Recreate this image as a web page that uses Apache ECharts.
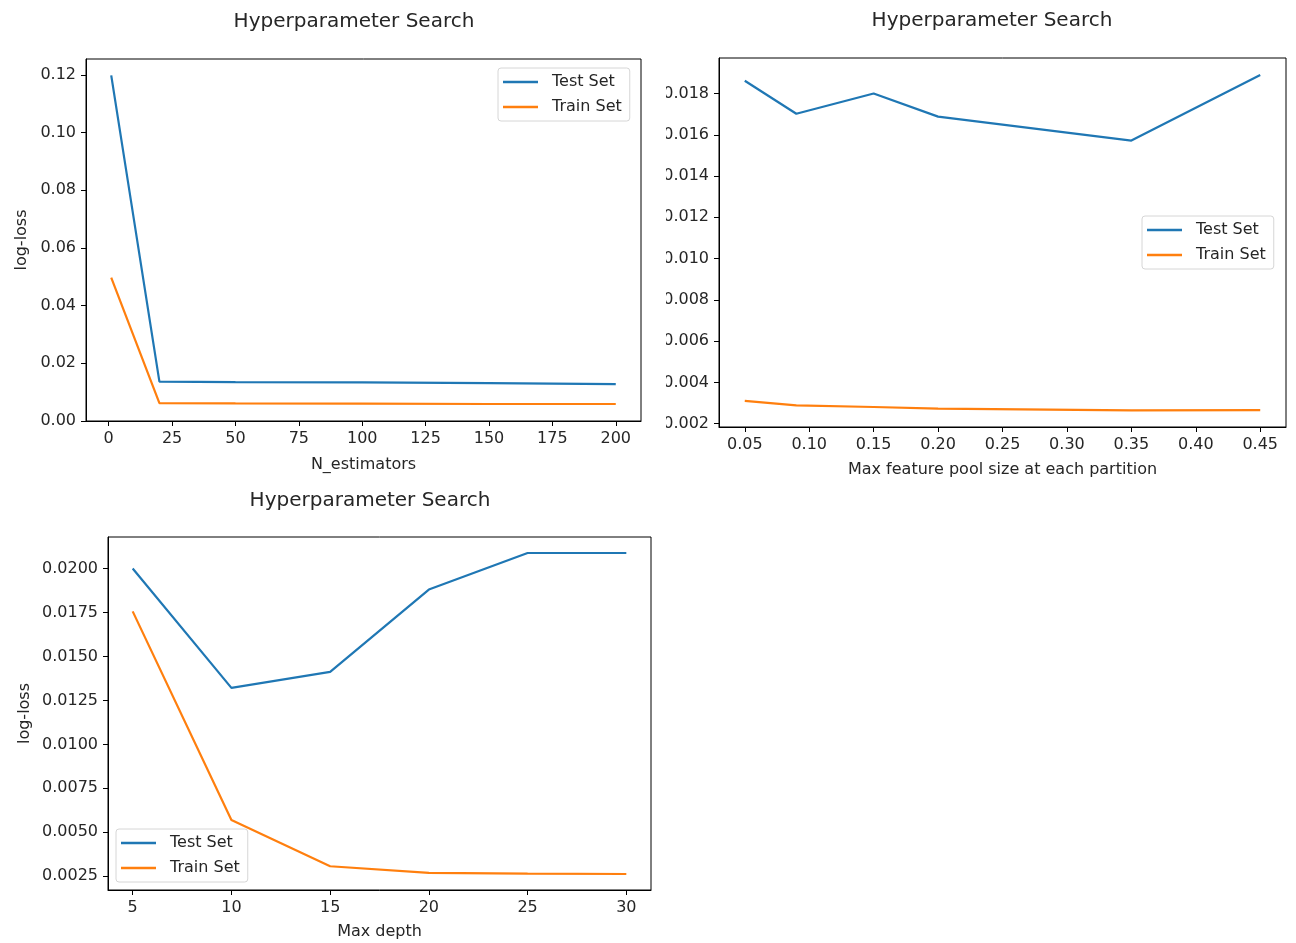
<!DOCTYPE html>
<html>
<head>
<meta charset="utf-8">
<title>Hyperparameter Search</title>
<script src="https://cdn.jsdelivr.net/npm/echarts@6/dist/echarts.min.js"></script>
<style>
  html, body { margin: 0; padding: 0; background: #fff; }
  #chart { width: 1296px; height: 943px; }
</style>
</head>
<body>
<div id="chart"></div>
<script>
// n_estimators search
var nEstimators = [1, 20, 50, 100, 150, 200];
var nEstTest = [0.1198, 0.01365, 0.0135, 0.0134, 0.0131, 0.01275];
var nEstTrain = [0.0497, 0.0062, 0.0061, 0.0060, 0.0059, 0.0059];

// max feature pool size search
var maxFeatures = [0.05, 0.09, 0.15, 0.2, 0.35, 0.45];
var maxFeatTest = [0.01862, 0.01702, 0.01800, 0.01688, 0.01572, 0.01890];
var maxFeatTrain = [0.00311, 0.00289, 0.00281, 0.00273, 0.00265, 0.00266];

// max depth search
var maxDepth = [5, 10, 15, 20, 25, 30];
var depthTest = [0.0200, 0.01321, 0.01412, 0.01880, 0.02088, 0.02088];
var depthTrain = [0.01756, 0.0057, 0.00307, 0.00269, 0.00265, 0.00263];

// tick labels
var nEstTicks = [0, 25, 50, 75, 100, 125, 150, 175, 200];
var nEstLossTicks = [0, 0.02, 0.04, 0.06, 0.08, 0.10, 0.12];
var featTicks = [0.05, 0.10, 0.15, 0.20, 0.25, 0.30, 0.35, 0.40, 0.45];
var featLossTicks = [0.002, 0.004, 0.006, 0.008, 0.010, 0.012, 0.014, 0.016, 0.018];
var depthTicks = [5, 10, 15, 20, 25, 30];
var depthLossTicks = [0.0025, 0.0050, 0.0075, 0.0100, 0.0125, 0.0150, 0.0175, 0.0200];

var seriesNames = ['Test Set', 'Train Set'];
var colors = ['#1f77b4', '#ff7f0e'];
var font = 'DejaVu Sans';
var textColor = '#262626';

function zip(xs, ys) {
  return xs.map(function (x, i) { return [x, ys[i]] })
}

function axis(gridIndex, min, max, ticks, digits, name, gap) {
  return {
    type: 'value',
    gridIndex: gridIndex,
    min: min,
    max: max,
    name: name,
    nameLocation: 'middle',
    nameGap: gap,
    nameTextStyle: { fontFamily: font, fontSize: 16, color: textColor },
    axisLine: { show: true, onZero: false, lineStyle: { color: '#000', width: 1 } },
    axisTick: { show: true, inside: false, length: 5, customValues: ticks, lineStyle: { color: '#000', width: 1 } },
    axisLabel: {
      customValues: ticks,
      margin: 10,
      fontFamily: font,
      fontSize: 16,
      color: textColor,
      formatter: function (v) { return Number(v).toFixed(digits) }
    },
    splitLine: { show: false }
  }
}

function line(name, idx, data, color) {
  return {
    name: name,
    type: 'line',
    xAxisIndex: idx,
    yAxisIndex: idx,
    data: data,
    symbol: 'none',
    color: color,
    lineStyle: { color: color, width: 2.2 },
    animation: false
  }
}

function legend(left, top) {
  return {
    data: seriesNames,
    orient: 'vertical',
    left: left,
    top: top,
    icon: 'rect',
    itemWidth: 35,
    itemHeight: 2.5,
    itemGap: 7,
    padding: [5, 8, 5, 5],
    borderColor: '#d6d6d6',
    borderWidth: 1,
    borderRadius: 3,
    backgroundColor: '#fff',
    selectedMode: false,
    textStyle: { fontFamily: font, fontSize: 16, color: textColor, lineHeight: 18, padding: [0, 0, 0, 9] }
  }
}

function title(text, x, y) {
  return {
    text: text,
    left: x,
    top: y,
    textAlign: 'center',
    padding: 0,
    textStyle: { fontFamily: font, fontSize: 20, fontWeight: 'normal', color: textColor }
  }
}

var gridStyle = { show: true, borderColor: '#000', borderWidth: 1, backgroundColor: 'transparent' };

var option = {
  backgroundColor: '#fff',
  animation: false,
  title: [
    title('Hyperparameter Search', 354, 12),
    title('Hyperparameter Search', 992, 11),
    title('Hyperparameter Search', 370, 491)
  ],
  legend: [
    legend(498, 68),
    legend(1142, 216),
    legend(116, 829)
  ],
  grid: [
    Object.assign({ left: 86, top: 59, width: 555, height: 362 }, gridStyle),
    Object.assign({ left: 719, top: 58, width: 567, height: 369 }, gridStyle),
    Object.assign({ left: 108, top: 537, width: 543, height: 353 }, gridStyle)
  ],
  xAxis: [
    axis(0, -8.95, 209.95, nEstTicks, 0, 'N_estimators', 36),
    axis(1, 0.03, 0.47, featTicks, 2, 'Max feature pool size at each partition', 35),
    axis(2, 3.75, 31.25, depthTicks, 0, 'Max depth', 34)
  ],
  yAxis: [
    axis(0, 0, 0.1255, nEstLossTicks, 2, 'log-loss', 56),
    axis(1, 0.00184, 0.01972, featLossTicks, 3, '', 10),
    axis(2, 0.00172, 0.02179, depthLossTicks, 4, 'log-loss', 75)
  ],
  series: [
    line('Test Set', 0, zip(nEstimators, nEstTest), colors[0]),
    line('Train Set', 0, zip(nEstimators, nEstTrain), colors[1]),
    line('Test Set', 1, zip(maxFeatures, maxFeatTest), colors[0]),
    line('Train Set', 1, zip(maxFeatures, maxFeatTrain), colors[1]),
    line('Test Set', 2, zip(maxDepth, depthTest), colors[0]),
    line('Train Set', 2, zip(maxDepth, depthTrain), colors[1])
  ],
  // the right-hand panel was cropped at its left edge, cutting into its tick labels
  graphic: [{
    type: 'rect',
    left: 645,
    top: 60,
    shape: { width: 21, height: 380 },
    style: { fill: '#fff' },
    z: 100
  }]
};

var myChart = echarts.init(document.getElementById('chart'));
myChart.setOption(option);
</script>
</body>
</html>
